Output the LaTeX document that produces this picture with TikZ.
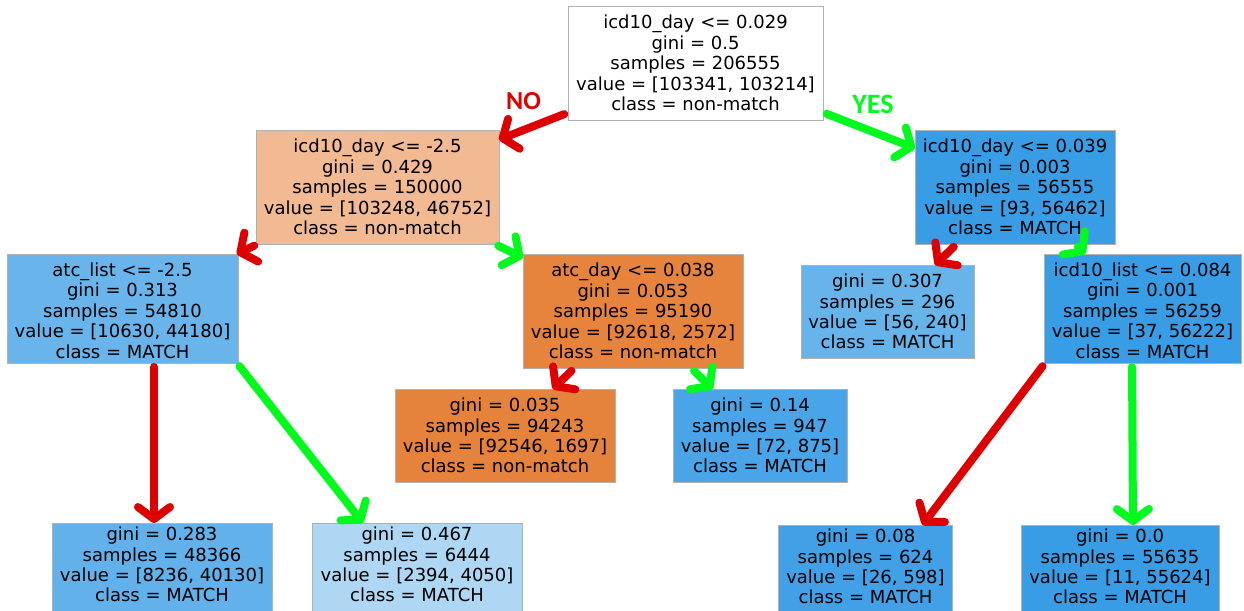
\documentclass[tikz,border=0pt]{standalone}
\usepackage{fontspec}
\setmainfont{DejaVu Sans}
\newfontfamily\tagfont{Carlito}
\usetikzlibrary{arrows.meta}

% node fills (orange = non-match, blue = MATCH, shaded by purity)
\definecolor{cRoot}{RGB}{255,255,255}
\definecolor{cA}{RGB}{241,186,147}
\definecolor{cB}{RGB}{57,157,229}
\definecolor{cC}{RGB}{105,181,235}
\definecolor{cD}{RGB}{230,132,62}
\definecolor{cE}{RGB}{103,180,235}
\definecolor{cF}{RGB}{57,157,229}
\definecolor{cG}{RGB}{229,131,61}
\definecolor{cH}{RGB}{73,165,231}
\definecolor{cI}{RGB}{98,177,234}
\definecolor{cJ}{RGB}{174,215,244}
\definecolor{cK}{RGB}{66,161,230}
\definecolor{cL}{RGB}{57,157,229}
\definecolor{nored}{RGB}{221,0,0}
\definecolor{yesgreen}{RGB}{0,250,30}

% extra depth under the last line of a leaf, lifting its text block
\newcommand{\liftrule}{\rule[-10pt]{0pt}{0pt}}

\begin{document}
\begin{tikzpicture}[x=1pt,y=-1pt,
  tnode/.style={draw=black!30, line width=0.8pt, inner sep=0pt, outer sep=0pt,
    align=center, font=\fontsize{18}{20.4}\selectfont},
  box/.style 2 args={minimum width=#1, minimum height=#2},
  edge/.style={line width=8pt, line cap=round, shorten <=4pt,
    -{Straight Barb[length=12pt,width=32pt,round]}},
  no/.style={edge, draw=nored},
  yes/.style={edge, draw=yesgreen},
  tag/.style={inner sep=0pt, font=\tagfont\bfseries}]

\useasboundingbox (0,0) rectangle (1244,610);
\clip (0,0) rectangle (1244,610);
\fill[white] (0,0) rectangle (1244,610);

% level 0
\node[tnode, box={255pt}{114pt}, fill=cRoot] (root) at (695.5,63)
  {icd10\_day <= 0.029\\gini = 0.5\\samples = 206555\\value = [103341, 103214]\\class = non-match};

% level 1
\node[tnode, box={243pt}{114pt}, fill=cA] (n1) at (377.5,187)
  {icd10\_day <= -2.5\\gini = 0.429\\samples = 150000\\value = [103248, 46752]\\class = non-match};
\node[tnode, box={200pt}{114pt}, fill=cB] (n2) at (1015,187)
  {icd10\_day <= 0.039\\gini = 0.003\\samples = 56555\\value = [93, 56462]\\class = MATCH};

% level 2
\node[tnode, box={231pt}{109pt}, fill=cC] (n3) at (122.5,308.5)
  {\rule{0pt}{18pt}atc\_list <= -2.5\\gini = 0.313\\samples = 54810\\value = [10630, 44180]\\class = MATCH};
\node[tnode, box={220pt}{114pt}, fill=cD] (n4) at (633,311)
  {atc\_day <= 0.038\\gini = 0.053\\samples = 95190\\value = [92618, 2572]\\class = non-match};
\node[tnode, box={173pt}{93pt}, fill=cE] (n5) at (887.5,311.5)
  {gini = 0.307\\samples = 296\\value = [56, 240]\\class = MATCH};
\node[tnode, box={197pt}{109pt}, fill=cF] (n6) at (1142.5,308.5)
  {\rule{0pt}{18pt}icd10\_list <= 0.084\\gini = 0.001\\samples = 56259\\value = [37, 56222]\\class = MATCH};

% level 3
\node[tnode, box={220pt}{93pt}, fill=cG] (n7) at (505,435.5)
  {gini = 0.035\\samples = 94243\\value = [92546, 1697]\\class = non-match};
\node[tnode, box={174pt}{93pt}, fill=cH] (n8) at (760,435.5)
  {gini = 0.14\\samples = 947\\value = [72, 875]\\class = MATCH};
\node[tnode, box={220pt}{93pt}, fill=cI] (n9) at (162,569.5)
  {gini = 0.283\\samples = 48366\\value = [8236, 40130]\\class = MATCH\liftrule};
\node[tnode, box={210pt}{93pt}, fill=cJ] (n10) at (417,569.5)
  {gini = 0.467\\samples = 6444\\value = [2394, 4050]\\class = MATCH\liftrule};
\node[tnode, box={174pt}{93pt}, fill=cK] (n11) at (865.5,571.5)
  {gini = 0.08\\samples = 624\\value = [26, 598]\\class = MATCH\liftrule};
\node[tnode, box={198pt}{93pt}, fill=cL] (n12) at (1120,571.5)
  {gini = 0.0\\samples = 55635\\value = [11, 55624]\\class = MATCH\liftrule};

% branch tags
\node[tag, text=nored, font=\tagfont\bfseries\fontsize{26}{26}\selectfont] (tagno) at (523.5,101) {NO};
\node[tag, text=yesgreen, font=\tagfont\bfseries\fontsize{28}{28}\selectfont] (tagyes) at (873,104) {YES};

% branches
\draw[no]  (root) -- (n1);
\draw[yes] (root) -- (n2);
\draw[no]  (n1) -- (n3);
\draw[yes] (n1) -- (n4);
\draw[no]  (n2) -- (n5);
\draw[yes] (n2) -- (n6);
\draw[no]  (n4) -- (n7);
\draw[yes] (n4) -- (n8);
\draw[no]  ([xshift=147pt]n3.south west) -- ([xshift=102pt]n9.north west);
\draw[yes] ([xshift=-1pt]n3.south east) -- ([xshift=51pt]n10.north west);
\draw[no]  ([xshift=1pt]n6.south west) -- ([xshift=144pt]n11.north west);
\draw[yes] ([xshift=88pt]n6.south west) -- ([xshift=112pt]n12.north west);
\end{tikzpicture}
\end{document}
